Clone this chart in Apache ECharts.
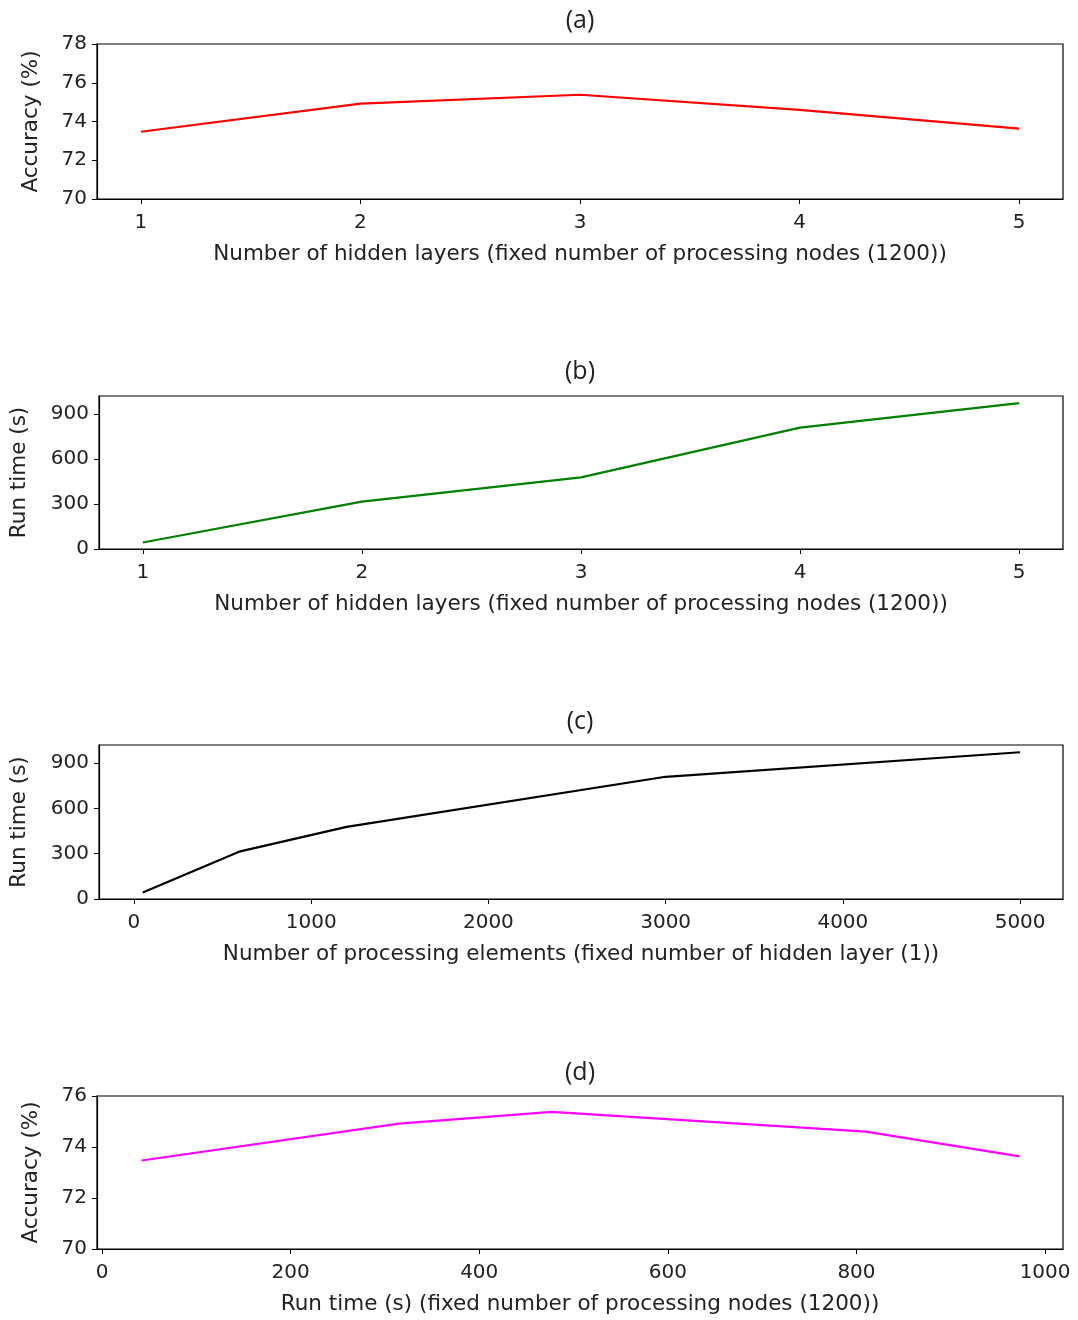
<!DOCTYPE html>
<html>
<head>
<meta charset="utf-8">
<script src="https://cdn.jsdelivr.net/npm/echarts@6/dist/echarts.min.js"></script>
<style>
html,body{margin:0;padding:0;background:#fff;}
#chart{width:1078px;height:1320px;}
</style>
</head>
<body>
<div id="chart"></div>
<script>
// ---- data ----
const hiddenLayers = [1, 2, 3, 4, 5];
const accuracy = [73.47, 74.92, 75.38, 74.6, 73.63];
const runTime = [42, 315, 477, 810, 973];
const processingElements = [50, 600, 1200, 3000, 5000];

const titles = ['(a)', '(b)', '(c)', '(d)'];
const xNames = [
  'Number of hidden layers (fixed number of processing nodes (1200))',
  'Number of hidden layers (fixed number of processing nodes (1200))',
  'Number of processing elements (fixed number of hidden layer (1))',
  'Run time (s) (fixed number of processing nodes (1200))'
];
const yNames = ['Accuracy (%)', 'Run time (s)', 'Run time (s)', 'Accuracy (%)'];
const xTicks = [
  [1, 2, 3, 4, 5],
  [1, 2, 3, 4, 5],
  [0, 1000, 2000, 3000, 4000, 5000],
  [0, 200, 400, 600, 800, 1000]
];
const yTicks = [
  [70, 72, 74, 76, 78],
  [0, 300, 600, 900],
  [0, 300, 600, 900],
  [70, 72, 74, 76]
];
const xRanges = [[0.8, 5.2], [0.8, 5.2], [-197, 5242], [-5.3, 1019]];
const yRanges = [[70, 78], [-1.5, 1021], [-1.5, 1021], [70, 76]];
const seriesX = [hiddenLayers, hiddenLayers, processingElements, runTime];
const seriesY = [accuracy, runTime, runTime, accuracy];
const colors = ['#ff0000', '#008000', '#000000', '#ff00ff'];

// ---- layout ----
const gridTops = [44, 396, 745, 1096];
const gridHeights = [155, 153, 154, 153];
const titleTops = [3, 354, 704, 1055];
const yNameGaps = [55, 69, 69, 55];
const FONT = 'DejaVu Sans';

const chart = echarts.init(document.getElementById('chart'));
const grid = [], xAxis = [], yAxis = [], series = [], title = [];
for (let i = 0; i < 4; i++) {
  grid.push({
    left: 97, right: 15, top: gridTops[i], height: gridHeights[i],
    show: true, borderColor: '#000', borderWidth: 1.2, backgroundColor: 'transparent'
  });
  title.push({
    text: titles[i], left: 575, top: titleTops[i], textAlign: 'center',
    textStyle: { fontFamily: 'Open Sans', fontSize: 25, fontWeight: 'normal', color: '#222' }
  });
  xAxis.push({
    type: 'value', gridIndex: i, min: xRanges[i][0], max: xRanges[i][1],
    name: xNames[i], nameLocation: 'middle', nameGap: 44,
    nameTextStyle: { fontFamily: FONT, fontSize: 21.5, color: '#222' },
    axisLine: { show: true, onZero: false, lineStyle: { color: '#000', width: 1.2 } },
    axisTick: { show: true, length: 5, lineStyle: { color: '#000', width: 1 }, customValues: xTicks[i] },
    axisLabel: { show: true, margin: 14, fontFamily: FONT, fontSize: 20, color: '#222',
      customValues: xTicks[i], formatter: v => String(v) },
    splitLine: { show: false }
  });
  yAxis.push({
    type: 'value', gridIndex: i, min: yRanges[i][0], max: yRanges[i][1],
    name: yNames[i], nameLocation: 'middle', nameGap: yNameGaps[i], nameRotate: 90,
    nameTextStyle: { fontFamily: FONT, fontSize: 21.5, color: '#222' },
    axisLine: { show: true, onZero: false, lineStyle: { color: '#000', width: 1.2 } },
    axisTick: { show: true, length: 5, lineStyle: { color: '#000', width: 1 }, customValues: yTicks[i] },
    axisLabel: { show: true, margin: 10, fontFamily: FONT, fontSize: 20, color: '#222',
      customValues: yTicks[i], formatter: v => String(v) },
    splitLine: { show: false }
  });
  series.push({
    type: 'line', xAxisIndex: i, yAxisIndex: i,
    data: seriesX[i].map((x, k) => [x, seriesY[i][k]]),
    showSymbol: false, symbol: 'none',
    lineStyle: { color: colors[i], width: 2.2 },
    itemStyle: { color: colors[i] },
    animation: false
  });
}

chart.setOption({
  animation: false,
  backgroundColor: '#fff',
  title, grid, xAxis, yAxis, series
});
</script>
</body>
</html>
